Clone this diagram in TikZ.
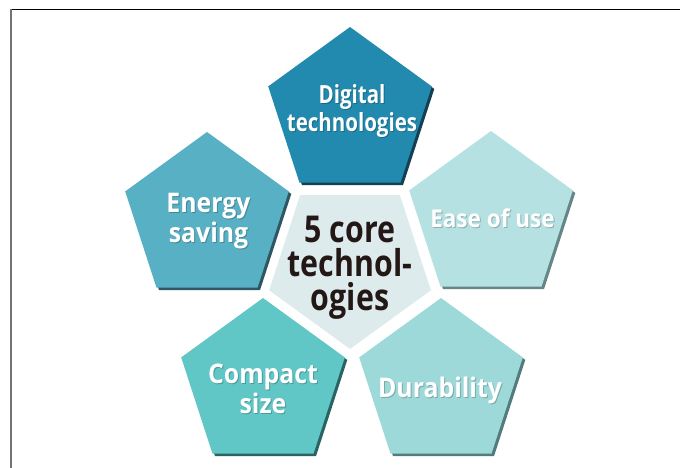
\documentclass[tikz,border=0pt]{standalone}
\usepackage{fontspec}
\newfontfamily\corefont{Open Sans}[FakeStretch=0.82]
\newfontfamily\techfont{Open Sans}[FakeStretch=0.92]
\usetikzlibrary{shapes.geometric,shadows}

\definecolor{digitalfill}{HTML}{218AAE}
\definecolor{digitalshade}{HTML}{163F52}
\definecolor{energyfill}{HTML}{58B0C4}
\definecolor{energyshade}{HTML}{2E5762}
\definecolor{easefill}{HTML}{B5E1E3}
\definecolor{easeshade}{HTML}{668585}
\definecolor{compactfill}{HTML}{60C6C6}
\definecolor{compactshade}{HTML}{2A6462}
\definecolor{durafill}{HTML}{9ED9DA}
\definecolor{durashade}{HTML}{527B7B}
\definecolor{corefill}{HTML}{DEEBEC}
\definecolor{coretext}{HTML}{231815}

\tikzset{
	pent/.style={regular polygon, regular polygon sides=5, minimum size=172pt, inner sep=0pt, draw=none},
	pentshade/.style={drop shadow={fill=#1, opacity=1, shadow xshift=2.5pt, shadow yshift=-2.5pt}},
	tech/.style={text=white, align=center, inner sep=0pt, font=\techfont\bfseries\fontsize{27}{30}\selectfont},
	techhalo/.style={tech, text=black, opacity=0.22},
	core/.style={text=coretext, align=center, inner sep=0pt, font=\corefont\bfseries\fontsize{37}{34}\selectfont}
}

\begin{document}
\begin{tikzpicture}[x=1pt, y=-1pt]
			%%%%% START %%%%%
			\useasboundingbox (0, 0) rectangle (680, 468);
			
			% frame
			\draw[line width=1pt] (10.5, 9.5) -- (680, 9.5);
			\draw[line width=1.6pt, color=black!55] (11, 9) -- (11, 468);
			
			% the five outer pentagons
			\node[pent, pentshade=digitalshade, fill=digitalfill] (digital) at (350, 113) {};
			\node[pent, pentshade=energyshade, fill=energyfill] (energy) at (207, 218) {};
			\node[pent, pentshade=easeshade, fill=easefill] (ease) at (491, 217) {};
			\node[pent, pentshade=compactshade, fill=compactfill] (compact) at (263, 384) {};
			\node[pent, pentshade=durashade, fill=durafill] (dura) at (441, 384) {};
			
			% the middle one, upside down
			\node[pent, shape border rotate=180, minimum size=170pt, fill=corefill] (core) at (350, 264) {};
			
			% labels
			\node[techhalo, font=\corefont\bfseries\fontsize{25}{28}\selectfont] at (353, 112.5) {Digital\\technologies};
			\node[tech, font=\corefont\bfseries\fontsize{25}{28}\selectfont] (digitaltxt) at (352, 111.5) {Digital\\technologies};
			\node[techhalo] at (209.5, 222) {Energy\\saving};
			\node[tech] (energytxt) at (208.5, 221) {Energy\\saving};
			\node[techhalo, font=\techfont\bfseries\fontsize{24.5}{30}\selectfont] at (493.5, 219.5) {Ease of use};
			\node[tech, font=\techfont\bfseries\fontsize{24.5}{30}\selectfont] (easetxt) at (492.5, 218.5) {Ease of use};
			\node[techhalo] at (264, 390) {Compact\\size};
			\node[tech] (compacttxt) at (263, 389) {Compact\\size};
			\node[techhalo] at (441, 391) {Durability};
			\node[tech] (duratxt) at (440, 390) {Durability};
			
			\node[core] (coretxt) at (350, 268) {5 core\\technol-\\ogies};
			
			%%%%% END %%%%%
		\end{tikzpicture}
\end{document}
